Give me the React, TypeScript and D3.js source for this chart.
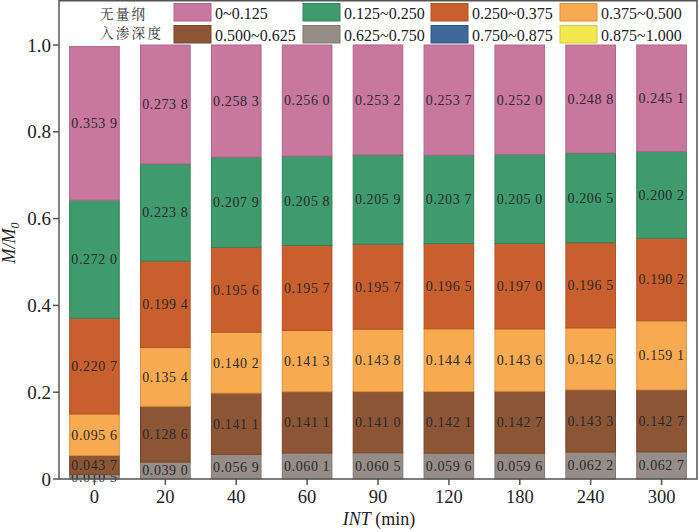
import * as d3 from "d3";

const times = ["0", "20", "40", "60", "90", "120", "180", "240", "300"];

const ranges = [
    "0~0.125",
    "0.125~0.250",
    "0.250~0.375",
    "0.375~0.500",
    "0.500~0.625",
    "0.625~0.750",
    "0.750~0.875",
    "0.875~1.000",
];

const COLORS = ["#c8779f", "#3f9a6e", "#c95f2e", "#f7aa50", "#8c5636", "#968c88", "#3d6899", "#f3e94f"];
const STROKES = ["#b0668a", "#35835d", "#b05226", "#dd9240", "#774629", "#7f7672", "#2f557f", "#d4c83a"];

// values per time step, from the deepest class (0.625~0.750) up to the surface class (0~0.125)
const gray = [0.0105, 0.039, 0.0569, 0.0601, 0.0605, 0.0596, 0.0596, 0.0622, 0.0627];
const brown = [0.0437, 0.1286, 0.1411, 0.1411, 0.141, 0.1421, 0.1427, 0.1433, 0.1427];
const lightOrange = [0.0956, 0.1354, 0.1402, 0.1413, 0.1438, 0.1444, 0.1436, 0.1426, 0.1591];
const orange = [0.2207, 0.1994, 0.1956, 0.1957, 0.1957, 0.1965, 0.197, 0.1965, 0.1902];
const green = [0.272, 0.2238, 0.2079, 0.2058, 0.2059, 0.2037, 0.205, 0.2065, 0.2002];
const pink = [0.3539, 0.2738, 0.2583, 0.256, 0.2532, 0.2537, 0.252, 0.2488, 0.2451];

const stackOrder = [
    { key: 5, values: gray },
    { key: 4, values: brown },
    { key: 3, values: lightOrange },
    { key: 2, values: orange },
    { key: 1, values: green },
    { key: 0, values: pink },
];

const yTicks = [0, 0.2, 0.4, 0.6, 0.8, 1.0];

const SERIF = "'Liberation Serif', 'DejaVu Serif', serif";
const CJK = "'Noto Serif CJK SC', 'Noto Sans CJK SC', sans-serif";

function fmt(v: number) {
    const s = v.toFixed(4);
    return `${s.slice(0, 5)} ${s.slice(5)}`;
}

export default function App() {
    const width = 700;
    const height = 532;
    const left = 59;
    const right = 697;
    const top = 0;
    const bottom = 479;

    const x = d3.scaleBand<string>().domain(times).range([left, right]).paddingInner(0.3).paddingOuter(0.15);
    const y = d3.scaleLinear().domain([0, 1]).range([bottom, 45]);

    const rows = times.map((t, i) => {
        let acc = 0;
        return stackOrder.map((s) => {
            const y0 = acc;
            acc += s.values[i];
            return { t, key: s.key, value: s.values[i], y0, y1: acc };
        });
    });

    const legendCols = [174, 303, 431, 560];

    return (
        <div style={{ position: "absolute", left: 0, top: 0 }}>
            <svg width={width} height={height} style={{ display: "block" }}>
                <rect x={0} y={0} width={width} height={height} fill="white" />
                {rows.map((segs) =>
                    segs.map((d) => (
                        <g key={`${d.t}-${d.key}`}>
                            <rect
                                x={x(d.t)}
                                y={y(d.y1)}
                                width={x.bandwidth()}
                                height={y(d.y0) - y(d.y1)}
                                fill={COLORS[d.key]}
                                stroke={STROKES[d.key]}
                                strokeWidth={1}
                            />
                            <text
                                x={(x(d.t) ?? 0) + x.bandwidth() / 2}
                                y={(y(d.y0) + y(d.y1)) / 2}
                                dy="0.35em"
                                textAnchor="middle"
                                fontFamily={SERIF}
                                fontSize={14}
                                letterSpacing={0.6}
                                fill="#2a2a2a"
                            >
                                {fmt(d.value)}
                            </text>
                        </g>
                    ))
                )}

                {/* frame */}
                <rect x={left} y={top + 0.75} width={right - left} height={bottom - top - 0.75} fill="none" stroke="#555" strokeWidth={1.5} />

                {/* y axis */}
                {yTicks.map((v) => (
                    <g key={v}>
                        <line x1={left - 6} x2={left} y1={y(v)} y2={y(v)} stroke="#555" strokeWidth={1.5} />
                        <text x={left - 8} y={y(v)} dy="0.35em" textAnchor="end" fontFamily={SERIF} fontSize={19} fill="#222">
                            {v === 0 ? "0" : v.toFixed(1)}
                        </text>
                    </g>
                ))}
                <text
                    transform={`translate(15, 243) rotate(-90)`}
                    textAnchor="middle"
                    fontFamily={SERIF}
                    fontSize={18}
                    fontStyle="italic"
                    fill="#222"
                >
                    M/M
                    <tspan fontSize={12} dy={4}>
                        0
                    </tspan>
                </text>

                {/* x axis */}
                {times.map((t) => {
                    const cx = (x(t) ?? 0) + x.bandwidth() / 2;
                    return (
                        <g key={t}>
                            <line x1={cx} x2={cx} y1={bottom} y2={bottom + 6} stroke="#555" strokeWidth={1.5} />
                            <text x={cx} y={503} textAnchor="middle" fontFamily={SERIF} fontSize={18.5} fill="#222">
                                {t}
                            </text>
                        </g>
                    );
                })}
                <text x={379} y={525} textAnchor="middle" fontFamily={SERIF} fontSize={18} fill="#222">
                    <tspan fontStyle="italic">INT</tspan> (min)
                </text>

                {/* legend */}
                <text x={100} y={18.5} fontFamily={CJK} fontSize={13.5} letterSpacing={2.3} fill="#333">
                    无量纲
                </text>
                <text x={100} y={38} fontFamily={CJK} fontSize={13.5} letterSpacing={2.3} fill="#333">
                    入渗深度
                </text>
                {ranges.map((r, i) => {
                    const col = i % 4;
                    const row = Math.floor(i / 4);
                    const sx = legendCols[col];
                    const sy = 3.5 + row * 22;
                    return (
                        <g key={r}>
                            <rect x={sx} y={sy} width={37} height={17.5} fill={COLORS[i]} stroke={STROKES[i]} strokeWidth={1} />
                            <text x={sx + 41} y={sy + 15} fontFamily={SERIF} fontSize={16} fill="#222">
                                {r}
                            </text>
                        </g>
                    );
                })}
            </svg>
        </div>
    );
}
